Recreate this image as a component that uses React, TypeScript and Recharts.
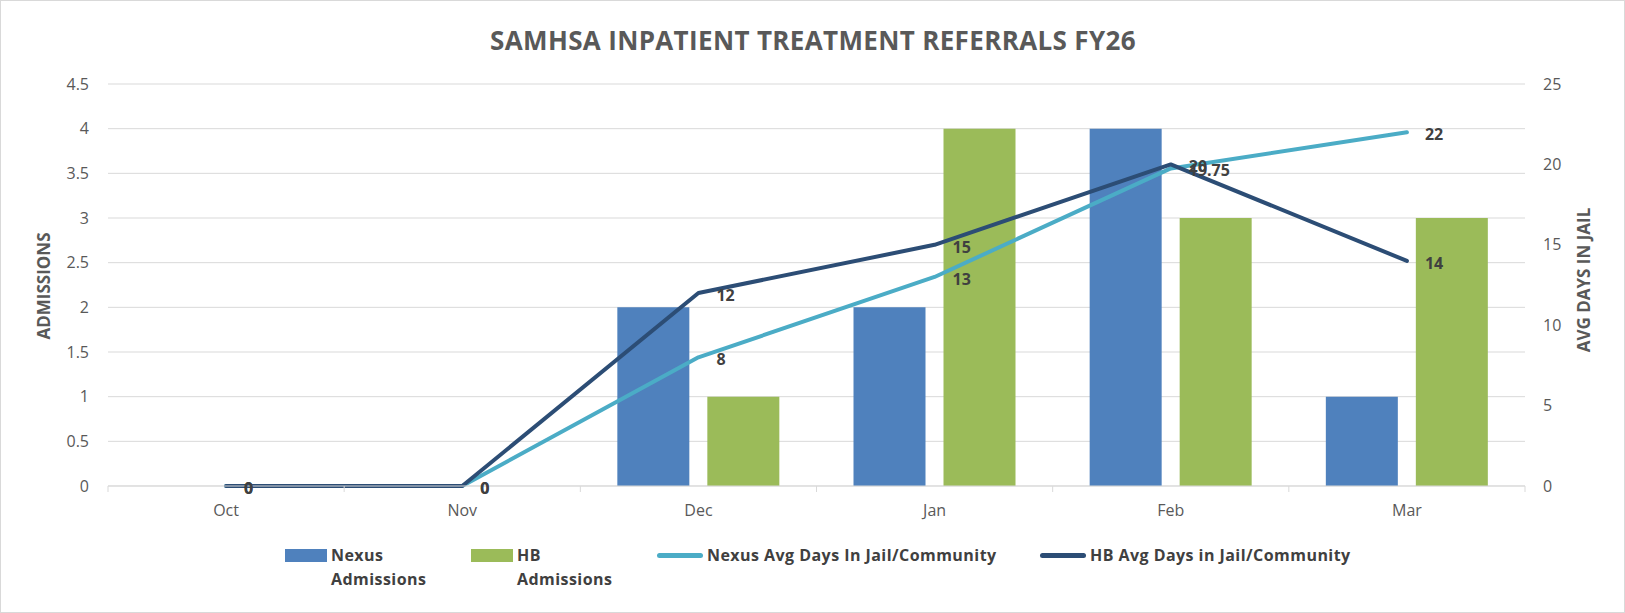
import { Bar, CartesianGrid, ComposedChart, LabelList, Line, XAxis, YAxis } from "recharts";

const months = ["Oct", "Nov", "Dec", "Jan", "Feb", "Mar"];
const nexusAdmissions = [0, 0, 2, 2, 4, 1];
const hbAdmissions = [0, 0, 1, 4, 3, 3];
const nexusAvgDays = [0, 0, 8, 13, 19.75, 22];
const hbAvgDays = [0, 0, 12, 15, 20, 14];
const admissionTicks = [0, 0.5, 1, 1.5, 2, 2.5, 3, 3.5, 4, 4.5];
const dayTicks = [0, 5, 10, 15, 20, 25];

const NEXUS_BAR = "#4F81BD";
const HB_BAR = "#9BBB59";
const NEXUS_LINE = "#4BACC6";
const HB_LINE = "#2C4D75";
const GRID = "#D9D9D9";
const AXIS_TEXT = "#595959";
const LABEL_TEXT = "#404040";
const FONT = "'Open Sans', sans-serif";

const X_TICK_MARGIN = 13;
const X_TICK_SIZE = 6;

const data = months.map((month, i) => ({
  month,
  nexusAdmissions: nexusAdmissions[i],
  hbAdmissions: hbAdmissions[i],
  nexusAvgDays: nexusAvgDays[i],
  hbAvgDays: hbAvgDays[i],
}));

// month label plus the small tick marks Excel draws between categories
function MonthTick(props: any) {
  const { x, y, payload, index } = props;
  const half = payload?.offset ?? 0;
  const axisY = y - X_TICK_MARGIN - X_TICK_SIZE;
  return (
    <g>
      <line x1={x - half} x2={x - half} y1={axisY} y2={axisY + 6} stroke={GRID} />
      {index === months.length - 1 && (
        <line x1={x + half} x2={x + half} y1={axisY} y2={axisY + 6} stroke={GRID} />
      )}
      <text x={x} y={y} dy="0.71em" textAnchor="middle" fill={AXIS_TEXT} fontSize={16}>
        {payload.value}
      </text>
    </g>
  );
}

function PointLabel(props: any) {
  const x = props.x ?? props.viewBox?.x;
  const y = props.y ?? props.viewBox?.y;
  if (x == null || y == null) return null;
  return (
    <text x={x + 18} y={y + 2} dominantBaseline="central" fill={LABEL_TEXT} fontSize={16} fontWeight={700}>
      {props.value}
    </text>
  );
}

const legendItems = [
  { left: 285, kind: "bar", color: NEXUS_BAR, lines: ["Nexus", "Admissions"] },
  { left: 471, kind: "bar", color: HB_BAR, lines: ["HB", "Admissions"] },
  { left: 657, kind: "line", color: NEXUS_LINE, lines: ["Nexus Avg Days In Jail/Community"] },
  { left: 1040, kind: "line", color: HB_LINE, lines: ["HB Avg Days in Jail/Community"] },
];

const axisTitleStyle = {
  position: "absolute" as const,
  transform: "translate(-50%, -50%) rotate(-90deg)",
  fontSize: 17,
  fontWeight: 700,
  color: AXIS_TEXT,
  whiteSpace: "nowrap" as const,
};

export default function App() {
  return (
    <div style={{ position: "relative", width: 1625, height: 613, fontFamily: FONT, background: "#fff" }}>
      <style>{"body{margin:0}"}</style>
      <div
        style={{
          position: "absolute",
          left: 0,
          top: 0,
          width: 1625,
          height: 613,
          boxSizing: "border-box",
          border: "1px solid #D9D9D9",
          pointerEvents: "none",
        }}
      />
      <div
        style={{
          position: "absolute",
          left: 0,
          width: 1626,
          top: 27,
          textAlign: "center",
          fontSize: 26,
          lineHeight: "26px",
          fontWeight: 700,
          letterSpacing: 0.35,
          color: AXIS_TEXT,
        }}
      >
        SAMHSA INPATIENT TREATMENT REFERRALS FY26
      </div>

      <ComposedChart width={1625} height={613} data={data} margin={{ top: 84, right: 0, bottom: 0, left: 0 }} barGap={18}>
        <CartesianGrid yAxisId="left" vertical={false} stroke={GRID} />
        <XAxis
          dataKey="month"
          height={127}
          interval={0}
          axisLine={{ stroke: GRID }}
          tickLine={false}
          tickSize={X_TICK_SIZE}
          tickMargin={X_TICK_MARGIN}
          tick={<MonthTick />}
        />
        <YAxis
          yAxisId="left"
          width={108}
          domain={[0, 4.5]}
          ticks={admissionTicks}
          axisLine={false}
          tickLine={false}
          tickMargin={13}
          tick={{ fill: AXIS_TEXT, fontSize: 16 }}
        />
        <YAxis
          yAxisId="right"
          orientation="right"
          width={100}
          domain={[0, 25]}
          ticks={dayTicks}
          axisLine={false}
          tickLine={false}
          tickMargin={12}
          tick={{ fill: AXIS_TEXT, fontSize: 16 }}
        />
        <Bar yAxisId="left" dataKey="nexusAdmissions" fill={NEXUS_BAR} barSize={72} isAnimationActive={false} />
        <Bar yAxisId="left" dataKey="hbAdmissions" fill={HB_BAR} barSize={72} isAnimationActive={false} />
        <Line
          yAxisId="right"
          type="linear"
          dataKey="nexusAvgDays"
          stroke={NEXUS_LINE}
          strokeWidth={4}
          strokeLinecap="round"
          strokeLinejoin="round"
          dot={false}
          activeDot={false}
          isAnimationActive={false}
        >
          <LabelList dataKey="nexusAvgDays" content={<PointLabel />} />
        </Line>
        <Line
          yAxisId="right"
          type="linear"
          dataKey="hbAvgDays"
          stroke={HB_LINE}
          strokeWidth={4}
          strokeLinecap="round"
          strokeLinejoin="round"
          dot={false}
          activeDot={false}
          isAnimationActive={false}
        >
          <LabelList dataKey="hbAvgDays" content={<PointLabel />} />
        </Line>
      </ComposedChart>

      <div style={{ ...axisTitleStyle, left: 43, top: 286 }}>ADMISSIONS</div>
      <div style={{ ...axisTitleStyle, left: 1583, top: 280 }}>AVG DAYS IN JAIL</div>

      {legendItems.map((item) => (
        <div
          key={item.lines.join(" ")}
          style={{ position: "absolute", left: item.left, top: 543, display: "flex", alignItems: "flex-start" }}
        >
          {item.kind === "bar" ? (
            <div style={{ width: 42, height: 13, marginTop: 6, background: item.color }} />
          ) : (
            <div style={{ width: 46, height: 5, marginTop: 10, borderRadius: 3, background: item.color }} />
          )}
          <div
            style={{
              marginLeft: 4,
              fontSize: 16,
              lineHeight: "24px",
              fontWeight: 700,
              letterSpacing: 0.45,
              color: LABEL_TEXT,
              whiteSpace: "nowrap",
            }}
          >
            {item.lines.map((l) => (
              <div key={l}>{l}</div>
            ))}
          </div>
        </div>
      ))}
    </div>
  );
}
